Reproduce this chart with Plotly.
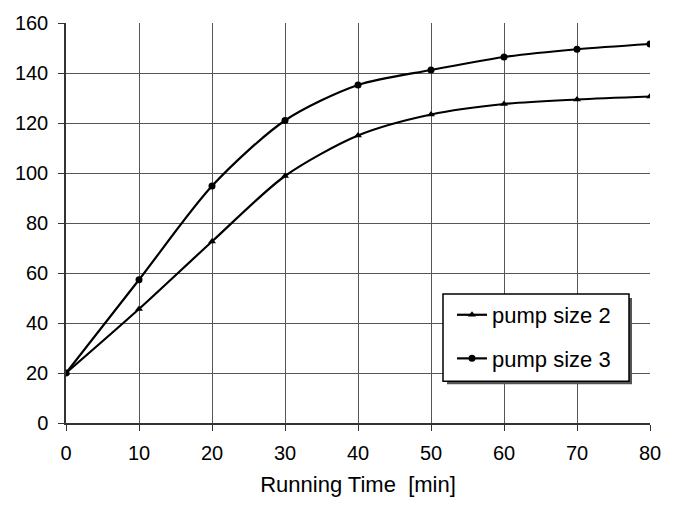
import plotly.graph_objects as go

time_min = [0, 10, 20, 30, 40, 50, 60, 70, 80]
pump_size_2 = [20, 45.6, 72.6, 98.8, 115, 123.4, 127.6, 129.4, 130.6]
pump_size_3 = [20, 57.3, 94.8, 121, 135.2, 141.2, 146.4, 149.5, 151.6]
x_ticks = [0, 10, 20, 30, 40, 50, 60, 70, 80]
y_ticks = [0, 20, 40, 60, 80, 100, 120, 140, 160]

L, R, T, B = 66, 24, 20, 94
W, H = 674, 517
PW, PH = W - L - R, H - T - B


def px_x(p):
    return (p - L) / PW


def px_y(p):
    return (H - B - p) / PH


fig = go.Figure()
fig.add_trace(go.Scatter(
    x=time_min, y=pump_size_2, name="pump size 2", mode="lines+markers",
    legendgroup="a",
    line=dict(color="black", width=2.2, shape="spline", smoothing=0.8),
    marker=dict(symbol="triangle-up", size=7, color="black")))
fig.add_trace(go.Scatter(
    x=time_min, y=pump_size_3, name="pump size 3", mode="lines+markers",
    legendgroup="b",
    line=dict(color="black", width=2.2, shape="spline", smoothing=0.8),
    marker=dict(symbol="circle", size=7, color="black")))

# legend drop shadow and box
fig.add_shape(type="rect", xref="paper", yref="paper",
              x0=px_x(447), x1=px_x(632), y0=px_y(384), y1=px_y(297),
              fillcolor="#555", line=dict(width=0), layer="above")
fig.add_shape(type="rect", xref="paper", yref="paper",
              x0=px_x(443), x1=px_x(629), y0=px_y(381), y1=px_y(293),
              fillcolor="white", line=dict(color="black", width=1.5), layer="above")

fig.update_layout(
    width=W, height=H,
    margin=dict(l=L, r=R, t=T, b=B),
    paper_bgcolor="white", plot_bgcolor="white",
    font=dict(family="Liberation Sans, Arial, sans-serif", size=20, color="black"),
    showlegend=True,
    legend=dict(x=px_x(452), y=px_y(293), xanchor="left", yanchor="top",
                bgcolor="rgba(0,0,0,0)", borderwidth=0,
                font=dict(size=22), itemwidth=30, tracegroupgap=12),
    xaxis=dict(range=[0, 80], tickvals=x_ticks, showgrid=True, gridcolor="#555",
               gridwidth=1, showline=True, linecolor="#333", linewidth=1.5,
               ticks="outside", ticklen=6, tickcolor="#333", zeroline=False,
               ticklabelstandoff=5,
               title=dict(text="Running Time  [min]", standoff=14,
                          font=dict(size=22, family="Liberation Sans, Arial, sans-serif"))),
    yaxis=dict(range=[0, 160], tickvals=y_ticks, showgrid=True, gridcolor="#555",
               gridwidth=1, showline=True, linecolor="#333", linewidth=1.5,
               ticks="outside", ticklen=6, tickcolor="#333", zeroline=False,
               ticklabelstandoff=6),
)

fig.write_html("out.html", post_script="document.body.style.margin='0';",
               config={"displayModeBar": False})
